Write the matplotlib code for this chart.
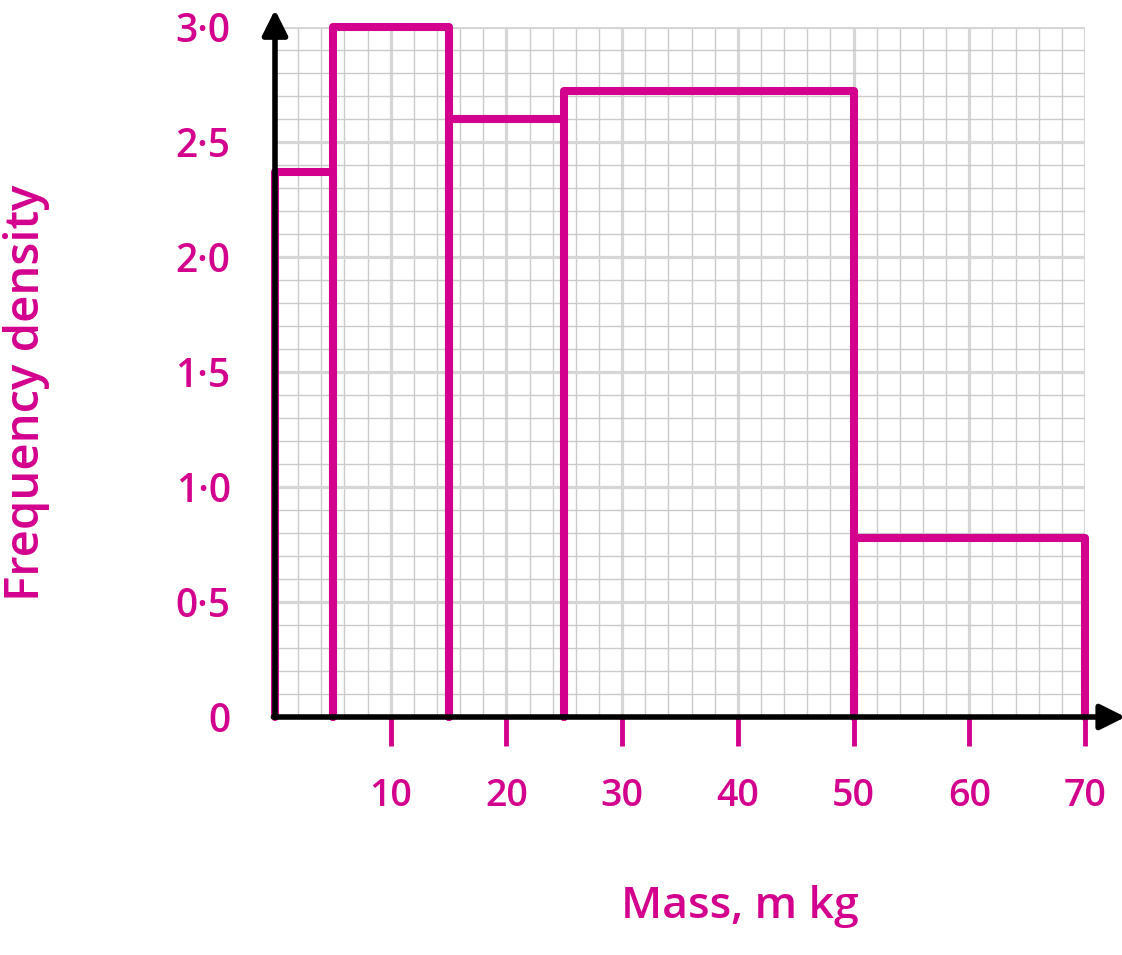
"""
Histogram of mass (frequency density), hand-drawn style
"""
import matplotlib.pyplot as plt
from matplotlib.ticker import MultipleLocator

# class boundaries and frequency densities
edges = [0, 5, 15, 25, 50, 70]
density = [2.37, 3.0, 2.6, 2.72, 0.78]

xticks = [10, 20, 30, 40, 50, 60, 70]
xtick_labels = ['10', '20', '30', '40', '50', '60', '70']
yticks = [0, 0.5, 1.0, 1.5, 2.0, 2.5, 3.0]
ytick_labels = ['0', '0·5', '1·0', '1·5', '2·0', '2·5', '3·0']

MAG = '#d3008d'
plt.rcParams['font.family'] = ['Open Sans', 'DejaVu Sans']

fig = plt.figure(figsize=(11.22, 9.55), dpi=100)
ax = fig.add_axes([275 / 1122, 238 / 955, 810 / 1122, 690 / 955])

ax.set_xlim(0, 70)
ax.set_ylim(0, 3)

# graph paper grid
ax.xaxis.set_major_locator(MultipleLocator(10))
ax.xaxis.set_minor_locator(MultipleLocator(2))
ax.yaxis.set_major_locator(MultipleLocator(0.5))
ax.yaxis.set_minor_locator(MultipleLocator(0.1))
ax.grid(True, which='major', color='#d6d6d6', linewidth=2.3, zorder=0)
ax.grid(True, which='minor', color='#cbcbcb', linewidth=1.0, zorder=0)
ax.set_axisbelow(True)

# bars as open outlines
for i, h in enumerate(density):
    l, r = edges[i], edges[i + 1]
    ax.plot([l, l, r, r], [0, h, h, 0], color=MAG, lw=5.8,
            solid_joinstyle='round', solid_capstyle='round', zorder=3, clip_on=False)

for s in ax.spines.values():
    s.set_visible(False)

# axes with arrow heads
ax.annotate('', xy=(0, 1.025), xytext=(0, 0), xycoords='axes fraction',
            arrowprops=dict(arrowstyle='-|>', lw=4, color='black', mutation_scale=38,
                            shrinkA=0, shrinkB=0), zorder=5)
ax.annotate('', xy=(1.05, 0), xytext=(-0.002, 0), xycoords='axes fraction',
            arrowprops=dict(arrowstyle='-|>', lw=4, color='black', mutation_scale=38,
                            shrinkA=0, shrinkB=0), zorder=5)

ax.set_xticks(xticks)
ax.set_xticklabels(xtick_labels)
ax.set_yticks(yticks)
ax.set_yticklabels(ytick_labels)
ax.tick_params(axis='x', which='major', direction='out', length=21, width=3.5,
               color=MAG, labelcolor=MAG, labelsize=27, pad=22)
ax.tick_params(axis='y', which='major', length=0, labelcolor=MAG, labelsize=28, pad=32)
ax.tick_params(which='minor', length=0)
for t in ax.get_yticklabels():
    t.set_fontweight('semibold')
for t in ax.get_xticklabels():
    t.set_fontweight('semibold')

ax.set_ylabel('Frequency density', fontsize=34, color=MAG, fontweight='semibold')
ax.yaxis.set_label_coords(-0.278, 0.47)
ax.set_xlabel('Mass, m kg', fontsize=32, color=MAG, fontweight='semibold')
ax.xaxis.label.set_va('center')
ax.xaxis.set_label_coords(0.574, -0.275)

plt.savefig('out.png', dpi=100)
